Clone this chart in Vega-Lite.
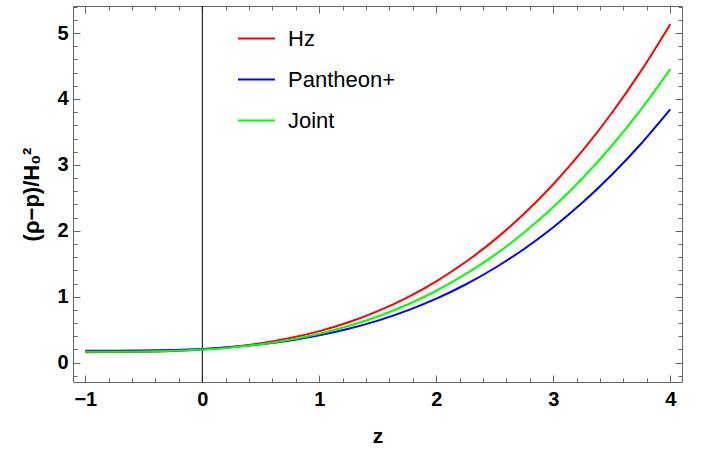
{
  "$schema": "https://vega.github.io/schema/vega-lite/v6.json",
  "width": 609,
  "height": 376,
  "autosize": {"type": "none"},
  "padding": {"left": 73, "top": 6, "right": 30, "bottom": 69},
  "background": "white",
  "config": {
    "view": {"stroke": "#666666", "strokeWidth": 1},
    "font": "Liberation Sans",
    "axis": {"grid": false, "domain": false, "tickColor": "#666666", "tickWidth": 1}
  },
  "datasets": {
    "curves": [
      {"z": -1, "v": 0.160, "s": "Hz"}, {"z": -0.75, "v": 0.1606, "s": "Hz"}, {"z": -0.5, "v": 0.165, "s": "Hz"}, {"z": -0.25, "v": 0.1768, "s": "Hz"}, {"z": 0, "v": 0.1998, "s": "Hz"}, {"z": 0.25, "v": 0.2377, "s": "Hz"}, {"z": 0.5, "v": 0.2943, "s": "Hz"}, {"z": 0.75, "v": 0.3733, "s": "Hz"}, {"z": 1, "v": 0.4784, "s": "Hz"}, {"z": 1.25, "v": 0.6133, "s": "Hz"}, {"z": 1.5, "v": 0.7819, "s": "Hz"}, {"z": 1.75, "v": 0.9878, "s": "Hz"}, {"z": 2, "v": 1.2346, "s": "Hz"}, {"z": 2.25, "v": 1.5263, "s": "Hz"}, {"z": 2.5, "v": 1.8664, "s": "Hz"}, {"z": 2.75, "v": 2.2587, "s": "Hz"}, {"z": 3, "v": 2.7072, "s": "Hz"}, {"z": 3.25, "v": 3.2155, "s": "Hz"}, {"z": 3.5, "v": 3.7868, "s": "Hz"}, {"z": 3.75, "v": 4.4254, "s": "Hz"}, {"z": 4, "v": 5.135, "s": "Hz"},
      {"z": -1, "v": 0.180, "s": "Pantheon+"}, {"z": -0.75, "v": 0.1805, "s": "Pantheon+"}, {"z": -0.5, "v": 0.1837, "s": "Pantheon+"}, {"z": -0.25, "v": 0.1924, "s": "Pantheon+"}, {"z": 0, "v": 0.2093, "s": "Pantheon+"}, {"z": 0.25, "v": 0.2372, "s": "Pantheon+"}, {"z": 0.5, "v": 0.2789, "s": "Pantheon+"}, {"z": 0.75, "v": 0.337, "s": "Pantheon+"}, {"z": 1, "v": 0.4144, "s": "Pantheon+"}, {"z": 1.25, "v": 0.5137, "s": "Pantheon+"}, {"z": 1.5, "v": 0.6378, "s": "Pantheon+"}, {"z": 1.75, "v": 0.7894, "s": "Pantheon+"}, {"z": 2, "v": 0.9711, "s": "Pantheon+"}, {"z": 2.25, "v": 1.1858, "s": "Pantheon+"}, {"z": 2.5, "v": 1.4363, "s": "Pantheon+"}, {"z": 2.75, "v": 1.7251, "s": "Pantheon+"}, {"z": 3, "v": 2.0552, "s": "Pantheon+"}, {"z": 3.25, "v": 2.4294, "s": "Pantheon+"}, {"z": 3.5, "v": 2.8504, "s": "Pantheon+"}, {"z": 3.75, "v": 3.321, "s": "Pantheon+"}, {"z": 4, "v": 3.8425, "s": "Pantheon+"},
      {"z": -1, "v": 0.165, "s": "Joint"}, {"z": -0.75, "v": 0.1655, "s": "Joint"}, {"z": -0.5, "v": 0.1693, "s": "Joint"}, {"z": -0.25, "v": 0.1795, "s": "Joint"}, {"z": 0, "v": 0.1993, "s": "Joint"}, {"z": 0.25, "v": 0.232, "s": "Joint"}, {"z": 0.5, "v": 0.2808, "s": "Joint"}, {"z": 0.75, "v": 0.3488, "s": "Joint"}, {"z": 1, "v": 0.4394, "s": "Joint"}, {"z": 1.25, "v": 0.5557, "s": "Joint"}, {"z": 1.5, "v": 0.7009, "s": "Joint"}, {"z": 1.75, "v": 0.8784, "s": "Joint"}, {"z": 2, "v": 1.0911, "s": "Joint"}, {"z": 2.25, "v": 1.3425, "s": "Joint"}, {"z": 2.5, "v": 1.6356, "s": "Joint"}, {"z": 2.75, "v": 1.9736, "s": "Joint"}, {"z": 3, "v": 2.3602, "s": "Joint"}, {"z": 3.25, "v": 2.7983, "s": "Joint"}, {"z": 3.5, "v": 3.2906, "s": "Joint"}, {"z": 3.75, "v": 3.8407, "s": "Joint"}, {"z": 4, "v": 4.4525, "s": "Joint"}
    ],
    "vline": [{"z": 0}]
  },
  "resolve": {"axis": {"x": "independent", "y": "independent"}},
  "layer": [
    {
      "data": {"name": "vline"},
      "mark": {"type": "rule", "color": "black", "strokeWidth": 1},
      "encoding": {
        "x": {"field": "z", "type": "quantitative", "scale": {"domain": [-1.105, 4.1], "nice": false, "zero": false},
          "axis": {"orient": "bottom", "values": [-1, 0, 1, 2, 3, 4], "ticks": false, "labelFontSize": 20, "labelFontWeight": "bold", "labelColor": "black", "labelPadding": 7, "format": "d",
            "title": "z", "titleFontSize": 21, "titleFontWeight": "bold", "titleColor": "black", "titlePadding": 16}}
      }
    },
    {
      "data": {"name": "curves"},
      "mark": {"type": "line", "strokeWidth": 2, "interpolate": "monotone", "clip": true},
      "encoding": {
        "x": {"field": "z", "type": "quantitative", "scale": {"domain": [-1.105, 4.1], "nice": false, "zero": false}, "axis": null},
        "y": {"field": "v", "type": "quantitative", "scale": {"domain": [-0.293, 5.41], "nice": false, "zero": false},
          "axis": {"orient": "left", "values": [0, 1, 2, 3, 4, 5], "ticks": false, "labelFontSize": 20, "labelFontWeight": "bold", "labelColor": "black", "labelPadding": 5, "format": "d",
            "title": "(ρ−p)/H₀²", "titleFontSize": 22, "titleFontWeight": "bold", "titleColor": "black", "titlePadding": 13}},
        "color": {"field": "s", "type": "nominal",
          "scale": {"domain": ["Hz", "Pantheon+", "Joint"], "range": ["#ff0000", "#0000ff", "#00ff00"]},
          "legend": {"orient": "none", "legendX": 164, "legendY": 13, "title": null, "padding": 0,
            "symbolType": "stroke", "symbolSize": 1369, "symbolStrokeWidth": 2, "labelFontSize": 22, "labelColor": "black", "labelOffset": 12, "rowPadding": 10}}
      }
    },
    {
      "data": {"name": "vline"},
      "mark": {"type": "point", "opacity": 0},
      "encoding": {
        "x": {"field": "z", "type": "quantitative", "scale": {"domain": [-1.105, 4.1], "nice": false, "zero": false},
          "axis": {"orient": "bottom", "values": [-1, -0.8, -0.6, -0.4, -0.2, 0, 0.2, 0.4, 0.6, 0.8, 1, 1.2, 1.4, 1.6, 1.8, 2, 2.2, 2.4, 2.6, 2.8, 3, 3.2, 3.4, 3.6, 3.8, 4], "labels": false, "tickSize": -4, "title": null}},
        "y": {"datum": 0, "type": "quantitative", "scale": {"domain": [-0.293, 5.41], "nice": false, "zero": false},
          "axis": {"orient": "left", "values": [-0.2, 0, 0.2, 0.4, 0.6, 0.8, 1, 1.2, 1.4, 1.6, 1.8, 2, 2.2, 2.4, 2.6, 2.8, 3, 3.2, 3.4, 3.6, 3.8, 4, 4.2, 4.4, 4.6, 4.8, 5, 5.2, 5.4], "labels": false, "tickSize": -4, "title": null}}
      }
    },
    {
      "data": {"name": "vline"},
      "mark": {"type": "point", "opacity": 0},
      "encoding": {
        "x": {"field": "z", "type": "quantitative", "scale": {"domain": [-1.105, 4.1], "nice": false, "zero": false},
          "axis": {"orient": "bottom", "values": [-1, 0, 1, 2, 3, 4], "labels": false, "tickSize": -7, "title": null}},
        "y": {"datum": 0, "type": "quantitative", "scale": {"domain": [-0.293, 5.41], "nice": false, "zero": false},
          "axis": {"orient": "left", "values": [0, 1, 2, 3, 4, 5], "labels": false, "tickSize": -7, "title": null}}
      }
    },
    {
      "data": {"name": "vline"},
      "mark": {"type": "point", "opacity": 0},
      "encoding": {
        "x": {"field": "z", "type": "quantitative", "scale": {"domain": [-1.105, 4.1], "nice": false, "zero": false},
          "axis": {"orient": "top", "values": [-1, -0.8, -0.6, -0.4, -0.2, 0, 0.2, 0.4, 0.6, 0.8, 1, 1.2, 1.4, 1.6, 1.8, 2, 2.2, 2.4, 2.6, 2.8, 3, 3.2, 3.4, 3.6, 3.8, 4], "labels": false, "tickSize": -4, "title": null}},
        "y": {"datum": 0, "type": "quantitative", "scale": {"domain": [-0.293, 5.41], "nice": false, "zero": false},
          "axis": {"orient": "right", "values": [-0.2, 0, 0.2, 0.4, 0.6, 0.8, 1, 1.2, 1.4, 1.6, 1.8, 2, 2.2, 2.4, 2.6, 2.8, 3, 3.2, 3.4, 3.6, 3.8, 4, 4.2, 4.4, 4.6, 4.8, 5, 5.2, 5.4], "labels": false, "tickSize": -4, "title": null}}
      }
    },
    {
      "data": {"name": "vline"},
      "mark": {"type": "point", "opacity": 0},
      "encoding": {
        "x": {"field": "z", "type": "quantitative", "scale": {"domain": [-1.105, 4.1], "nice": false, "zero": false},
          "axis": {"orient": "top", "values": [-1, 0, 1, 2, 3, 4], "labels": false, "tickSize": -7, "title": null}},
        "y": {"datum": 0, "type": "quantitative", "scale": {"domain": [-0.293, 5.41], "nice": false, "zero": false},
          "axis": {"orient": "right", "values": [0, 1, 2, 3, 4, 5], "labels": false, "tickSize": -7, "title": null}}
      }
    }
  ]
}
